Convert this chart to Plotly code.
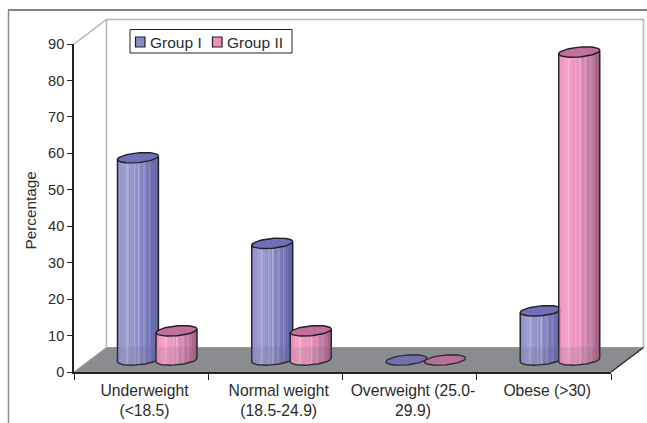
import numpy as np
import plotly.graph_objects as go

# Chart content
CATEGORIES = ["Underweight<br>(&lt;18.5)", "Normal weight<br>(18.5-24.9)",
              "Overweight (25.0-<br>29.9)", "Obese (&gt;30)"]
SERIES_NAMES = ["Group I", "Group II"]
GROUP_I = [55.5, 32.0, 0.0, 13.5]
GROUP_II = [8.0, 8.0, 0.0, 84.5]
Y_TICKS = [0, 10, 20, 30, 40, 50, 60, 70, 80, 90]

# Page and plot geometry
W, H = 647, 423
LEFT, RIGHT, TOP, BOTTOM = 74, 611, 44, 372
PX_X = (RIGHT - LEFT) / 4
PX_Y = (BOTTOM - TOP) / 90
DEPTH_PX_X, DEPTH_PX_Y = 32.5, 24.5              # oblique depth of the box
X0, X1 = -0.5, 3.5

# Cylinder geometry, in pixels and axis units
RADIUS, RISE, MINOR = 20.5, 1.8, 4.9
BASE_LIFT = 12 / PX_Y
OFFSETS = [-0.0235, 0.2635]

# Cylinder colours
BLUE_STOPS = [(0, "#8d8dc8"), (0.2, "#9c9cd2"), (0.55, "#8486c2"), (0.85, "#686bb0"), (1, "#5c5fa6")]
PINK_STOPS = [(0, "#f08fbe"), (0.2, "#f8a0c8"), (0.55, "#e286b4"), (0.85, "#b96f98"), (1, "#96587c")]
CAPS = ["#6f70b6", "#c06f9e"]
SWATCHES = ["#8a8cc6", "#f48fbf"]
OUTLINE = "#1f1f24"
TEXT = "#2b2b2b"
N_STRIPS = 22
STREAKS = {5: 0.22, 9: 0.16, 11: 0.28, 14: 0.18, 17: 0.12}


def ramp(stops):
    """Colour of each vertical strip of a cylinder body."""
    ts = [s[0] for s in stops]
    rgb = np.array([[int(s[1][i:i + 2], 16) for i in (1, 3, 5)] for s in stops], float)
    cols = []
    for i in range(N_STRIPS):
        t = (i + 0.5) / N_STRIPS
        c = np.array([np.interp(t, ts, rgb[:, k]) for k in range(3)])
        c = c + (255 - c) * STREAKS.get(i, 0)
        cols.append("rgb(%d,%d,%d)" % tuple(c))
    return cols


STRIP_COLOURS = [ramp(BLUE_STOPS), ramp(PINK_STOPS)]


def poly(xs, ys, fill=None, line=None, width=1.0):
    return go.Scatter(x=xs, y=ys, mode="lines", fill="toself" if fill else None,
                      fillcolor=fill, line=dict(color=line or "rgba(0,0,0,0)", width=width),
                      cliponaxis=False, hoverinfo="skip", showlegend=False)


def lower_arc(u):
    return (RISE * u - MINOR * np.sqrt(np.clip(1 - u ** 2, 0, 1))) / PX_Y


def cylinder(cx, value, group, name):
    """Body strips, outline and top cap of one cylinder, standing on the floor."""
    base = BASE_LIFT
    top = BASE_LIFT + value
    traces = []
    dx = RADIUS / PX_X
    if value > 0:
        edges = np.linspace(-1, 1, N_STRIPS + 1)
        for i in range(N_STRIPS):
            us = np.linspace(edges[i], edges[i + 1], 3)
            xs = cx + us * dx
            ys = base + lower_arc(us)
            traces.append(poly(list(xs) + [xs[-1], xs[0], xs[0]],
                               list(ys) + [top, top, ys[0]],
                               fill=STRIP_COLOURS[group][i], line=STRIP_COLOURS[group][i], width=0.4))
        us = np.linspace(-1, 1, 41)
        xs = cx + us * dx
        ys = base + lower_arc(us)
        traces.append(poly([xs[0]] + list(xs) + [xs[-1]],
                           [top + lower_arc(np.array(-1.0))] + list(ys) + [top + lower_arc(np.array(1.0))],
                           line=OUTLINE, width=1.4))
    t = np.linspace(0, 2 * np.pi, 61)
    capx = cx + np.cos(t) * dx
    capy = top + (RISE * np.cos(t) + MINOR * np.sin(t)) / PX_Y
    cap = poly(capx, capy, fill=CAPS[group], line=OUTLINE, width=1.4)
    cap.name = name
    traces.append(cap)
    return traces


fig = go.Figure()

# Cylinders, left to right in each category
for i in range(len(CATEGORIES)):
    for g, vals in enumerate([GROUP_I, GROUP_II]):
        for tr in cylinder(i + OFFSETS[g], vals[i], g, SERIES_NAMES[g]):
            fig.add_trace(tr)


def px(x):
    return (x - LEFT) / (RIGHT - LEFT)


def py(y):
    return (BOTTOM - y) / (BOTTOM - TOP)


def path(points):
    return "M " + " L ".join("%.5f,%.5f" % (px(a), py(b)) for a, b in points)


# Box corners: front floor edge, and the same edge pushed back by the depth
BACK_L, BACK_R = LEFT + DEPTH_PX_X, RIGHT + DEPTH_PX_X
BACK_B, BACK_T = BOTTOM - DEPTH_PX_Y, TOP - DEPTH_PX_Y
FLOOR = [(LEFT, BOTTOM), (RIGHT, BOTTOM), (BACK_R, BACK_B), (BACK_L, BACK_B)]

shapes = [
    # Outer frame
    dict(type="line", xref="paper", yref="paper", x0=px(8), x1=px(647), y0=py(10), y1=py(10),
         line=dict(color="#5a5a5a", width=1.5)),
    dict(type="line", xref="paper", yref="paper", x0=px(8.5), x1=px(8.5), y0=py(10), y1=py(423),
         line=dict(color="#8a8a8a", width=1.5)),
    # Back wall and floor
    dict(type="path", xref="paper", yref="paper", layer="below",
         path=path([(LEFT, TOP), (BACK_L, BACK_T), (BACK_R, BACK_T), (BACK_R, BACK_B)]),
         line=dict(color="#b4b4b4", width=1.5)),
    dict(type="path", xref="paper", yref="paper", layer="below",
         path=path([(BACK_L, BACK_T), (BACK_L, BACK_B)]), line=dict(color="#b4b4b4", width=1.5)),
    dict(type="path", xref="paper", yref="paper", layer="below", path=path(FLOOR) + " Z",
         fillcolor="#8f9092", line=dict(color="#9a9a9c", width=1)),
    dict(type="path", xref="paper", yref="paper", layer="below",
         path=path([(RIGHT, BOTTOM), (BACK_R, BACK_B)]), line=dict(color="#222222", width=1.3)),
    # Floor tint showing faintly across the cylinder feet
    dict(type="path", xref="paper", yref="paper", layer="above", path=path(FLOOR) + " Z",
         fillcolor="rgba(120,120,125,0.14)", line=dict(width=0)),
    # Legend box
    dict(type="rect", xref="paper", yref="paper", x0=px(130), x1=px(292), y0=py(29.5), y1=py(53),
         fillcolor="white", line=dict(color="#222222", width=1)),
]
annotations = []
for name, col, sx, tx in zip(SERIES_NAMES, SWATCHES, [135.5, 212.5], [147.5, 225]):
    shapes.append(dict(type="rect", xref="paper", yref="paper", x0=px(sx), x1=px(sx + 9.5),
                       y0=py(37), y1=py(47), fillcolor=col, line=dict(color="#222222", width=1.2)))
    annotations.append(dict(text=name, xref="paper", yref="paper", x=px(tx), y=py(42),
                            xanchor="left", yanchor="middle", showarrow=False,
                            font=dict(family="Liberation Sans", size=15.5, color=TEXT)))
annotations.append(dict(text="Percentage", xref="paper", yref="paper", x=px(29.5), y=py(211), textangle=-90,
                        xanchor="center", yanchor="middle", showarrow=False,
                        font=dict(family="Liberation Sans", size=15.3, color=TEXT)))

fig.update_layout(
    width=W, height=H, autosize=False, showlegend=False,
    margin=dict(l=LEFT, r=W - RIGHT, t=TOP, b=H - BOTTOM, pad=0),
    paper_bgcolor="white", plot_bgcolor="rgba(0,0,0,0)",
    font=dict(family="Liberation Sans", size=15, color=TEXT),
    shapes=shapes, annotations=annotations,
    xaxis=dict(range=[X0, X1], automargin=False, showgrid=False, zeroline=False, showline=True,
               linecolor="#222222", linewidth=1.5, ticks="",
               tickmode="array", tickvals=[i + 0.025 for i in range(4)], ticktext=CATEGORIES,
               tickangle=0, ticklen=0, ticklabelstandoff=3, tickfont=dict(size=15.7),
               minor=dict(ticks="outside", tickmode="array", ticklen=6, tickwidth=1.3, tickcolor="#222222",
                          tickvals=[-0.5, 0.5, 1.5, 2.5, 3.5], showgrid=False)),
    yaxis=dict(range=[0, 90], automargin=False, showgrid=False, zeroline=False, showline=True,
               linecolor="#222222", linewidth=1.5, ticks="outside", ticklen=5, tickwidth=1.3,
               tickcolor="#222222", tickmode="array", tickvals=Y_TICKS, tickfont=dict(size=14.6)),
)

fig.write_html("out.html")
